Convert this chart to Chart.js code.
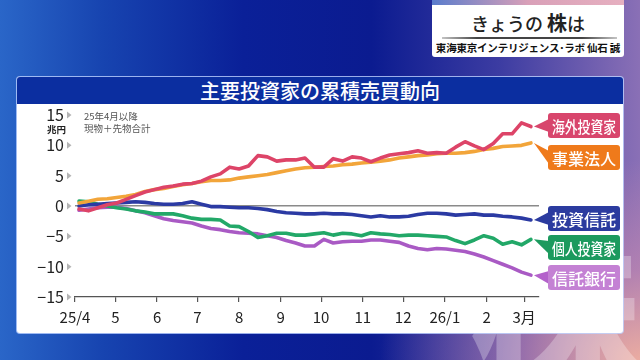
<!DOCTYPE html>
<html><head><meta charset="utf-8">
<script src="https://cdn.jsdelivr.net/npm/chart.js@4.4.1/dist/chart.umd.min.js"></script>
<style>
html,body{margin:0;padding:0;}
body{width:640px;height:360px;overflow:hidden;position:relative;font-family:"Noto Sans CJK JP","Noto Sans",sans-serif;
background:
 radial-gradient(ellipse 260px 200px at 100% 100%, rgba(240,175,160,0.95) 0%, rgba(205,140,175,0.6) 45%, rgba(0,0,0,0) 100%),
 linear-gradient(90deg,#2a66c8 0%,#1744b0 16%,#0a2098 38%,#0b1b90 58%,#3c3ca2 78%,#8a70b6 100%);}
#wm{position:absolute;left:470px;top:215px;font-size:170px;font-weight:900;color:rgba(255,255,255,0.28);line-height:1;}
#hdr{position:absolute;left:432px;top:0;width:192px;height:57px;background:#fff;border-radius:0 0 3px 3px;overflow:hidden;}
#hdr .strip{position:absolute;left:0;top:0;width:100%;height:5px;background:linear-gradient(90deg,#5a7ccc,#d9a0b8,#e6b0c0);}
#hdr .t1{position:absolute;left:0;width:100%;top:11px;text-align:center;font-size:18px;line-height:24px;color:#222;font-weight:500;}
#hdr .t1 b{font-size:20px;font-weight:700;}
#hdr .line{position:absolute;left:10px;width:175px;top:37px;height:2px;background:linear-gradient(90deg,rgba(60,60,60,0.3),#444 20%,#444 80%,rgba(60,60,60,0.3));}
#hdr .t2{position:absolute;left:0;width:100%;top:41px;text-align:center;font-size:10.5px;line-height:14px;color:#111;font-weight:700;white-space:nowrap;letter-spacing:-0.2px;}
#panel{position:absolute;left:17px;top:77px;width:606px;height:256px;background:#fff;border-radius:3px;box-shadow:0 0 0 1px rgba(190,210,255,0.8);}
#title{position:absolute;left:17px;top:77px;width:606px;height:27px;background:#0b2ea0;color:#fff;text-align:center;font-size:20px;line-height:27px;font-weight:500;border-radius:3px 3px 0 0;}
#cv{position:absolute;left:17px;top:104px;}
.note{position:absolute;font-size:9.5px;color:#555;line-height:12px;white-space:nowrap;}
#unit{position:absolute;left:47px;top:122px;font-size:9.5px;font-weight:700;color:#222;}
.lbl{position:absolute;left:548px;width:72px;height:25px;border-radius:3px;color:#fff;font-size:16px;font-weight:500;display:flex;align-items:center;justify-content:center;white-space:nowrap;overflow:visible;}
.lbl span.c{display:inline-block;transform:scaleX(0.8);}
</style></head><body>
<div id="wm">株</div>
<div id="hdr"><div class="strip"></div><div class="t1">きょうの <b>株</b>は</div><div class="line"></div><div class="t2">東海東京インテリジェンス･ラボ 仙石 誠</div></div>
<div id="panel"></div>
<div id="title">主要投資家の累積売買動向</div>
<canvas id="cv" width="606" height="229"></canvas>
<div id="unit">兆円</div>
<div class="note" style="left:84px;top:110px;">25年4月以降</div>
<div class="note" style="left:84px;top:122px;">現物＋先物合計</div>
<div class="lbl" style="top:113px;background:#d8456c;"><span class="c">海外投資家</span></div>
<div class="lbl" style="top:145px;background:#ef7a1b;">事業法人</div>
<div class="lbl" style="top:206px;background:#2b3b9f;">投資信託</div>
<div class="lbl" style="top:235px;background:#1c9a5e;"><span class="c">個人投資家</span></div>
<div class="lbl" style="top:265px;background:#c481d4;">信託銀行</div>
<script>
// ---- data ----
const weekDates = ['2025-04-04','2025-04-11','2025-04-18','2025-04-25','2025-05-02','2025-05-09','2025-05-16','2025-05-23','2025-05-30',
 '2025-06-06','2025-06-13','2025-06-20','2025-06-27','2025-07-04','2025-07-11','2025-07-18','2025-07-25',
 '2025-08-01','2025-08-08','2025-08-15','2025-08-22','2025-08-29','2025-09-05','2025-09-12','2025-09-19','2025-09-26',
 '2025-10-03','2025-10-10','2025-10-17','2025-10-24','2025-10-31','2025-11-07','2025-11-14','2025-11-21','2025-11-28',
 '2025-12-05','2025-12-12','2025-12-19','2025-12-26','2026-01-02','2026-01-09','2026-01-16','2026-01-23','2026-01-30',
 '2026-02-06','2026-02-13','2026-02-20','2026-02-27','2026-03-06'];
const monthStarts = ['2025-04-01','2025-05-01','2025-06-01','2025-07-01','2025-08-01','2025-09-01','2025-10-01','2025-11-01','2025-12-01','2026-01-01','2026-02-01','2026-03-01'];
const monthLabels = ['25/4','5','6','7','8','9','10','11','12','26/1','2','3月'];
const yTickValues = [15,10,5,0,-5,-10,-15];
const seriesNames = ['海外投資家','事業法人','投資信託','個人投資家','信託銀行'];
const foreign = [-0.5,-0.8,-0.3,0.2,0.5,1.1,1.7,2.3,2.7,3.1,3.3,3.6,3.7,4.1,4.8,5.3,6.4,6.1,6.6,8.3,8.1,7.4,7.6,7.6,7.9,6.4,6.4,7.8,7.4,8.1,7.9,7.3,7.9,8.4,8.6,8.8,9.1,8.7,8.8,8.7,9.7,10.6,9.9,9.3,10.3,11.9,11.9,13.7,13.1];
const corporates = [0.5,0.8,1.1,1.2,1.4,1.6,1.9,2.4,2.7,2.9,3.2,3.5,3.7,4.0,4.2,4.2,4.3,4.6,4.8,5.0,5.2,5.5,5.8,6.1,6.3,6.4,6.5,6.6,6.8,6.9,7.1,7.2,7.4,7.6,7.9,8.1,8.3,8.4,8.6,8.7,8.7,8.8,9.0,9.3,9.5,9.8,9.9,10.0,10.4];
const invTrusts = [0.0,0.2,0.3,0.4,0.5,0.6,0.7,0.6,0.4,0.3,0.3,0.4,0.7,0.3,-0.1,-0.1,-0.2,-0.3,-0.3,-0.4,-0.6,-0.9,-1.1,-1.2,-1.3,-1.3,-1.2,-1.3,-1.3,-1.4,-1.6,-1.8,-1.6,-1.8,-1.8,-1.7,-1.4,-1.2,-1.2,-1.3,-1.5,-1.4,-1.3,-1.5,-1.5,-1.7,-1.8,-2.0,-2.3];
const individuals = [0.8,0.7,0.3,0.0,-0.3,-0.5,-0.8,-1.0,-1.3,-1.3,-1.3,-1.6,-2.0,-2.2,-2.2,-2.3,-3.3,-3.4,-4.2,-5.2,-4.9,-4.5,-4.5,-4.8,-4.8,-4.6,-4.4,-4.8,-4.5,-4.6,-4.9,-4.4,-4.6,-4.7,-4.9,-4.8,-4.8,-4.9,-5.0,-5.1,-5.7,-6.2,-5.6,-4.9,-5.3,-6.3,-5.9,-6.4,-5.5];
const trustBanks = [-0.7,-0.5,-0.3,-0.2,-0.2,-0.4,-0.8,-1.1,-1.6,-2.1,-2.4,-2.6,-2.8,-3.3,-3.7,-3.9,-4.2,-4.4,-4.5,-4.6,-4.9,-5.2,-5.7,-6.1,-6.6,-6.6,-5.5,-6.1,-5.9,-5.8,-5.8,-5.6,-5.6,-5.8,-6.0,-6.6,-7.0,-7.2,-7.0,-7.1,-7.3,-7.5,-7.9,-8.4,-9.0,-9.6,-10.2,-10.9,-11.4];

// ---- build ----
const DAY = 86400000;
const origin = Date.parse(monthStarts[0]);
const toDay = s => (Date.parse(s) - origin) / DAY;
const xs = weekDates.map(toDay);
const tickDays = monthStarts.map(toDay);
const pts = arr => arr.map((v,i) => ({x: xs[i], y: v}));

const lineColors = ['#dd4468','#f2a53a','#2b3aa3','#22a868','#a95ac4'];
const wedgeColors = ['#d8456c','#ef7a1b','#2b3b9f','#1c9a5e','#b462cb'];
const boxTops = [113,145,206,235,265]; // page y of label boxes
const canvasTop = 104, canvasLeft = 17, boxLeft = 548;
const allSeries = [foreign, corporates, invTrusts, individuals, trustBanks];

const decor = {
  id:'decor',
  afterDraw(chart){
    const c = chart.ctx, ca = chart.chartArea, ys = chart.scales.y;
    c.save();
    c.fillStyle = '#b4b4b4';
    yTickValues.forEach(v => {
      const y = ys.getPixelForValue(v);
      c.beginPath(); c.moveTo(ca.left-8, y-3.5); c.lineTo(ca.left-3.5, y); c.lineTo(ca.left-8, y+3.5); c.closePath(); c.fill();
    });
    chart.data.datasets.forEach((ds,i) => {
      const meta = chart.getDatasetMeta(i);
      const last = meta.data[meta.data.length-1];
      const tx = last.x + 3, ty = last.y;
      const bx = boxLeft - canvasLeft + 1, by = boxTops[i] - canvasTop;
      c.fillStyle = wedgeColors[i];
      c.beginPath(); c.moveTo(tx, ty); c.lineTo(bx, by+6); c.lineTo(bx, by+19); c.closePath(); c.fill();
    });
    c.restore();
  }
};

new Chart(document.getElementById('cv'), {
  type:'line',
  data:{ datasets: allSeries.map((s,i) => ({
    label: seriesNames[i], data: pts(s), borderColor: lineColors[i], backgroundColor: lineColors[i],
    borderWidth: 3.6, pointRadius: 0, tension: 0, borderJoinStyle:'round', borderCapStyle:'round', fill:false
  }))},
  options:{
    responsive:false, animation:false, devicePixelRatio:1,
    layout:{padding:{left:0,right:84,top:11,bottom:0}},
    plugins:{legend:{display:false}, tooltip:{enabled:false}},
    scales:{
      x:{type:'linear', min:0, max:345,
        afterBuildTicks: s => { s.ticks = tickDays.map(v => ({value:v})); },
        afterFit: s => { s.height = 36; s.paddingLeft = 0; s.paddingRight = 0; },
        ticks:{autoSkip:false, maxRotation:0, padding:6, color:'#222', font:{family:'"Noto Sans CJK JP"', size:15},
          callback:(v,i) => monthLabels[i]},
        grid:{drawOnChartArea:false, drawTicks:true, tickLength:5, color:'#555', lineWidth:1.2},
        border:{display:true, color:'#555', width:1.2}
      },
      y:{min:-15, max:15,
        afterBuildTicks: s => { s.ticks = yTickValues.map(v => ({value:v})); },
        afterFit: s => { s.width = 58; s.paddingTop = 0; s.paddingBottom = 0; },
        ticks:{padding:11, color:'#222', font:{family:'"Noto Sans CJK JP"', size:16},
          callback: v => v < 0 ? '\u2212' + Math.abs(v) : String(v)},
        grid:{drawTicks:false, lineWidth:1.5, color: c => (c.tick && c.tick.value === 0) ? '#8a8a8a' : 'rgba(0,0,0,0)'},
        border:{display:false}
      }
    }
  },
  plugins:[decor]
});
</script>
</body></html>
